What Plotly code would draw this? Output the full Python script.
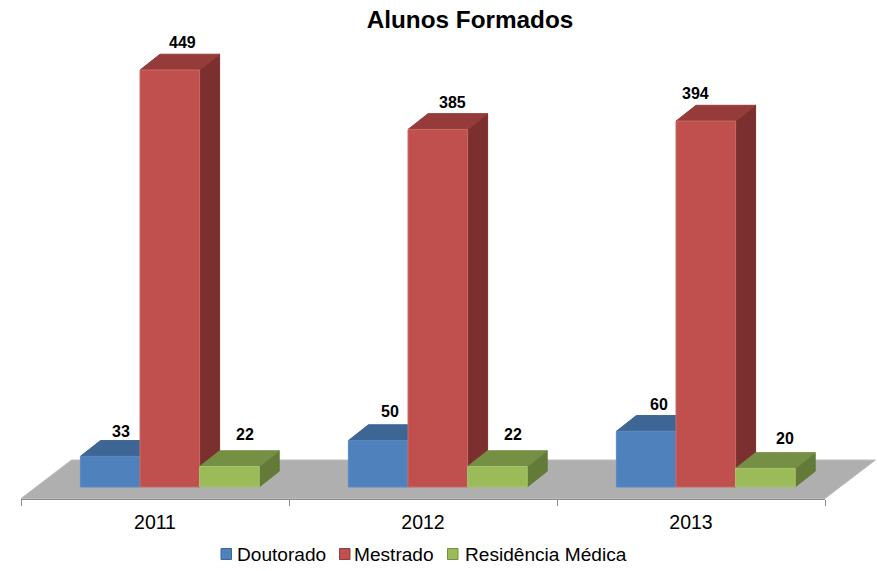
import plotly.graph_objects as go

# ---- data ----
YEARS = ["2011", "2012", "2013"]
SERIES = ["Doutorado", "Mestrado", "Residência Médica"]
DOUTORADO = [33, 50, 60]
MESTRADO = [449, 385, 394]
RESIDENCIA = [22, 22, 20]
TITLE = "Alunos Formados"

# ---- styles / geometry of the oblique 3-D look ----
W, H = 877, 571
FONT = "Liberation Sans"
PX_CAT = 268.0           # pixels per category
PX_VAL = 0.9287          # pixels per value unit
X0_PX = 155.0            # pixel of first category centre
Y0_PX = 487.0            # pixel of value 0
BAR_W = 59.6 / PX_CAT
BAR_SHIFT = 14.8 / PX_CAT
DX = 20.0 / PX_CAT       # depth offset in category units
DY = 15.8 / PX_VAL       # depth offset in value units
FRONT = ["#4F81BD", "#C0504D", "#9BBB59"]
TOP = ["#3D6695", "#953C3A", "#758F44"]
SIDE = ["#335680", "#7B302F", "#637A39"]
EDGE = ["#5A8AC4", "#C96A67", "#A8C46E"]
LABEL_DX = [[11, 12, 13], [13, 15, -10], [16, 16, 20]]
LABEL_DY = [[25, 29, 27], [28, 26.5, 28], [32, 32, 30]]
VALUES = [DOUTORADO, MESTRADO, RESIDENCIA]
LEGEND_SWATCH_PX = [221, 339.5, 447.5]
LEGEND_TEXT_PX = [235.5, 352.5, 463.5]
LEGEND_Y_PX = 554

fig = go.Figure()

# helper that carries the category axis
fig.add_trace(go.Scatter(x=YEARS, y=[0, 0, 0], xaxis="x", yaxis="y", mode="markers",
                         marker=dict(opacity=0, size=1), showlegend=False, hoverinfo="skip"))

# floor
fl, fr = -0.5, 2.5
fb = -11.5 / PX_VAL
fdx = 50.5 / PX_CAT
fdy = 38.5 / PX_VAL
fig.add_trace(go.Scatter(x=[fl, fr, fr + fdx, fl + fdx, fl], y=[fb, fb, fb + fdy, fb + fdy, fb],
                         xaxis="x2", yaxis="y", mode="lines", fill="toself", fillcolor="#AFAFAF",
                         line=dict(color="#BDBDBD", width=1), showlegend=False, hoverinfo="skip"))


def faces(s):
    vals = VALUES[s]
    tx, ty, sx, sy, fx, fy = [], [], [], [], [], []
    for i, v in enumerate(vals):
        l = i + BAR_SHIFT + (s - 1.5) * BAR_W
        r = l + BAR_W
        fx += [l, r, r, l, l, None]
        fy += [0, 0, v, v, 0, None]
        tx += [l, r, r + DX, l + DX, l, None]
        ty += [v, v, v + DY, v + DY, v, None]
        sx += [r, r + DX, r + DX, r, r, None]
        sy += [0, DY, v + DY, v, 0, None]
    return (tx, ty), (sx, sy), (fx, fy)


for s, name in enumerate(SERIES):
    top, side, front = faces(s)
    for (xs, ys), col in ((side, SIDE[s]), (top, TOP[s]), (front, FRONT[s])):
        edge = EDGE[s] if col == FRONT[s] else col
        fig.add_trace(go.Scatter(x=xs, y=ys, xaxis="x2", yaxis="y", mode="lines", fill="toself",
                                 fillcolor=col, line=dict(color=edge, width=1), name=name,
                                 showlegend=False, hoverinfo="skip"))

annotations = []
for s in range(3):
    for i, v in enumerate(VALUES[s]):
        annotations.append(dict(x=i + BAR_SHIFT + (s - 1) * BAR_W, y=v, xref="x2", yref="y", text=str(v),
                                showarrow=False, xshift=LABEL_DX[s][i], yshift=LABEL_DY[s][i],
                                font=dict(family=FONT, size=16, color="black", weight=700)))

# legend row
shapes = []
for s, name in enumerate(SERIES):
    x0 = LEGEND_SWATCH_PX[s]
    shapes.append(dict(type="rect", xref="paper", yref="paper", x0=x0 / W, x1=(x0 + 10.5) / W,
                       y0=1 - (LEGEND_Y_PX + 5.5) / H, y1=1 - (LEGEND_Y_PX - 5.5) / H,
                       fillcolor=FRONT[s], line=dict(color=TOP[s], width=1)))
    annotations.append(dict(x=LEGEND_TEXT_PX[s] / W, y=1 - LEGEND_Y_PX / H, xref="paper", yref="paper",
                            text=name, showarrow=False, xanchor="left", yanchor="middle", borderpad=0,
                            font=dict(family=FONT, size=19.1, color="black")))

fig.update_layout(
    width=W, height=H, autosize=False,
    margin=dict(l=0, r=0, t=0, b=0, pad=0),
    paper_bgcolor="white", plot_bgcolor="rgba(0,0,0,0)",
    font=dict(family=FONT, color="black"),
    title=dict(text=TITLE, x=470 / W, xanchor="center", xref="paper", y=1 - 19.5 / H, yanchor="middle",
               yref="container", font=dict(family=FONT, size=24.3, color="black", weight=700)),
    xaxis=dict(type="category", domain=[21 / W, 825 / W], anchor="free", position=(H - 498.5) / H,
               range=[-0.5, 2.5], tickson="boundaries", ticks="outside", ticklen=6, tickcolor="#8C8C8C",
               showline=True, linecolor="#8C8C8C", linewidth=1, showgrid=False, zeroline=False,
               tickfont=dict(family=FONT, size=19.5, color="black"), fixedrange=True, layer="above traces",
               ticklabelstandoff=6),
    xaxis2=dict(domain=[0, 1], anchor="y", range=[-X0_PX / PX_CAT, (W - X0_PX) / PX_CAT], visible=False,
                fixedrange=True),
    yaxis=dict(domain=[0, 1], anchor="x2", range=[(Y0_PX - H) / PX_VAL, Y0_PX / PX_VAL], visible=False,
               fixedrange=True),
    showlegend=False,
    annotations=annotations,
    shapes=shapes,
)

fig.write_html("out.html", config=dict(displayModeBar=False),
               post_script="document.body.style.margin='0';document.body.style.overflow='hidden';")
